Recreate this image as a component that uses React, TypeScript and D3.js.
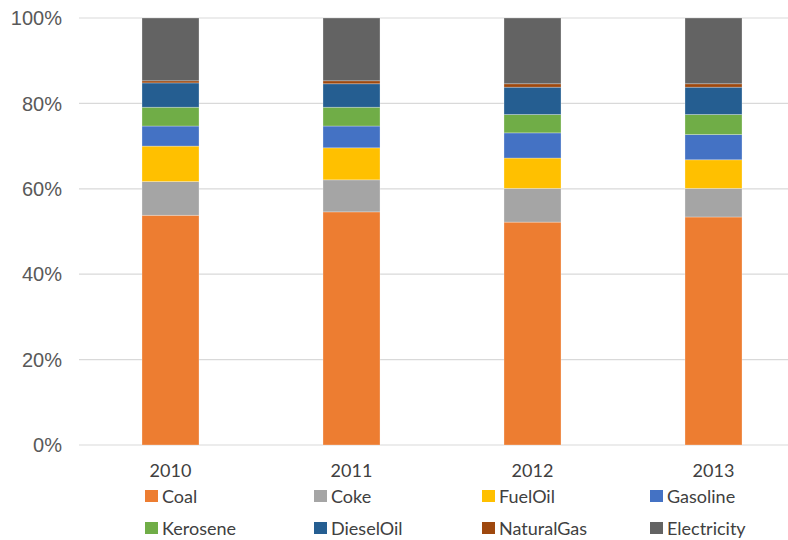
import React from "react";
import * as d3 from "d3";

const years = ["2010", "2011", "2012", "2013"];
const fuels = ["Coal", "Coke", "FuelOil", "Gasoline", "Kerosene", "DieselOil", "NaturalGas", "Electricity"];
const fuelColors = ["#ED7D31", "#A5A5A5", "#FFC000", "#4472C4", "#70AD47", "#255E91", "#9E480E", "#636363"];

// Share of final energy consumption by fuel, percent
const coal = [53.8, 54.6, 52.2, 53.4];
const coke = [7.9, 7.5, 7.9, 6.7];
const fuelOil = [8.3, 7.5, 7.1, 6.7];
const gasoline = [4.7, 5.1, 5.9, 5.9];
const kerosene = [4.4, 4.4, 4.3, 4.7];
const dieselOil = [5.7, 5.5, 6.4, 6.4];
const naturalGas = [0.5, 0.7, 0.8, 0.8];
const electricity = [14.7, 14.7, 15.4, 15.4];

const yTicks = [0, 0.2, 0.4, 0.6, 0.8, 1];

const W = 788;
const H = 540;
const plotLeft = 79;
const plotTop = 18;
const plotBottom = 445;

export default function App() {
  const series = [coal, coke, fuelOil, gasoline, kerosene, dieselOil, naturalGas, electricity];
  const rows = years.map((year, i) => {
    const r: Record<string, any> = { year };
    fuels.forEach((f, k) => (r[f] = series[k][i]));
    return r;
  });
  const stacked = d3.stack<any>().keys(fuels).offset(d3.stackOffsetExpand)(rows);

  const x = d3
    .scaleBand<string>()
    .domain(years)
    .range([80, 804])
    .paddingInner(0.685)
    .paddingOuter(0.3425);
  const y = d3.scaleLinear().domain([0, 1]).range([plotBottom, plotTop]);
  const fmt = d3.format(".0%");

  const legendX = [145, 314, 482, 650];
  const legendY = [496, 528];

  return (
    <svg
      width={W}
      height={H}
      style={{ position: "absolute", left: 0, top: 0, background: "#fff" }}
    >
      {yTicks.map((t) => (
        <g key={t}>
          <line x1={plotLeft} x2={W} y1={y(t)} y2={y(t)} stroke="#d9d9d9" strokeWidth={1.2} />
          <text
            x={62}
            y={y(t)}
            dy="0.36em"
            textAnchor="end"
            fontFamily="'Liberation Sans', Arial, sans-serif"
            fontSize={20}
            fill="#595959"
          >
            {fmt(t)}
          </text>
        </g>
      ))}
      {stacked.map((s, k) => (
        <g key={s.key} fill={fuelColors[k]}>
          {s.map((d, i) => (
            <rect
              key={i}
              x={x(years[i])}
              width={x.bandwidth()}
              y={y(d[1])}
              height={y(d[0]) - y(d[1])}
              stroke="#ffffff"
              strokeOpacity={0.35}
              strokeWidth={0.8}
            />
          ))}
        </g>
      ))}
      {years.map((yr) => (
        <text
          key={yr}
          x={(x(yr) as number) + x.bandwidth() / 2}
          y={477}
          textAnchor="middle"
          fontFamily="Lato, sans-serif"
          fontSize={18}
          fill="#404040"
        >
          {yr}
        </text>
      ))}
      {fuels.map((f, k) => {
        const lx = legendX[k % 4];
        const ly = legendY[Math.floor(k / 4)];
        return (
          <g key={f}>
            <rect x={lx} y={ly - 6} width={13} height={12} fill={fuelColors[k]} />
            <text
              x={lx + 17}
              y={ly + 7}
              fontFamily="Lato, sans-serif"
              fontSize={18}
              fill="#404040"
            >
              {f}
            </text>
          </g>
        );
      })}
    </svg>
  );
}
